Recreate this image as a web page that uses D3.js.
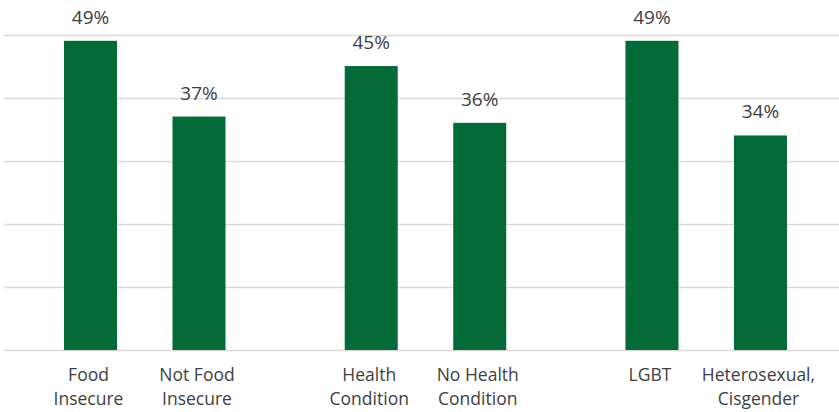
<!DOCTYPE html>
<html><head><meta charset="utf-8">
<script src="https://cdn.jsdelivr.net/npm/d3@7"></script>
<style>body{margin:0;background:#fff;} svg{display:block;}</style>
</head><body>
<svg id="c" width="839" height="412"></svg>
<script>
const groups = ["food", "health", "lgbt"];
const categories = [
  ["Food|Insecure", "Not Food|Insecure"],
  ["Health|Condition", "No Health|Condition"],
  ["LGBT", "Heterosexual,|Cisgender"]
];
const values = [[49, 37], [45, 36], [49, 34]];
const yTicks = [0, 10, 20, 30, 40, 50];

const svg = d3.select("#c");
const W = 839, H = 412;
const y = d3.scaleLinear().domain([0, 50]).range([350, 34.5]);
const x0 = d3.scaleBand().domain(groups).range([4.4, 846.6]).padding(0);
const x1 = d3.scalePoint().domain([0, 1]).range([86.1, 194.6]);
const bw = 53;

svg.append("g").selectAll("line").data(yTicks).join("line")
  .attr("x1", 4).attr("x2", W)
  .attr("y1", d => Math.round(y(d)) + 0.5).attr("y2", d => Math.round(y(d)) + 0.5)
  .attr("stroke", "#d9d9d9").attr("stroke-width", 1.5);

const rows = [];
groups.forEach((g, gi) => values[gi].forEach((v, i) => rows.push({g, i, v, label: categories[gi][i]})));

const cx = d => x0(d.g) + x1(d.i);

svg.append("g").selectAll("rect").data(rows).join("rect")
  .attr("x", d => cx(d) - bw / 2).attr("width", bw)
  .attr("y", d => y(d.v)).attr("height", d => y(0) - y(d.v))
  .attr("fill", "#046A38");

svg.append("g").selectAll("text").data(rows).join("text")
  .attr("x", d => cx(d)).attr("y", d => y(d.v) - 17)
  .attr("text-anchor", "middle")
  .attr("font-family", "Open Sans, sans-serif").attr("font-size", 19)
  .attr("fill", "#404040")
  .text(d => d.v + "%");

const lab = svg.append("g").selectAll("text").data(rows).join("text")
  .attr("text-anchor", "middle")
  .attr("font-family", "Open Sans, sans-serif").attr("font-size", 17.5)
  .attr("fill", "#404040");
lab.each(function(d) {
  const parts = d.label.split("|");
  d3.select(this).selectAll("tspan").data(parts).join("tspan")
    .attr("x", cx(d) - 2).attr("y", (p, k) => 381 + k * 24)
    .text(p => p);
});
</script>
</body></html>
